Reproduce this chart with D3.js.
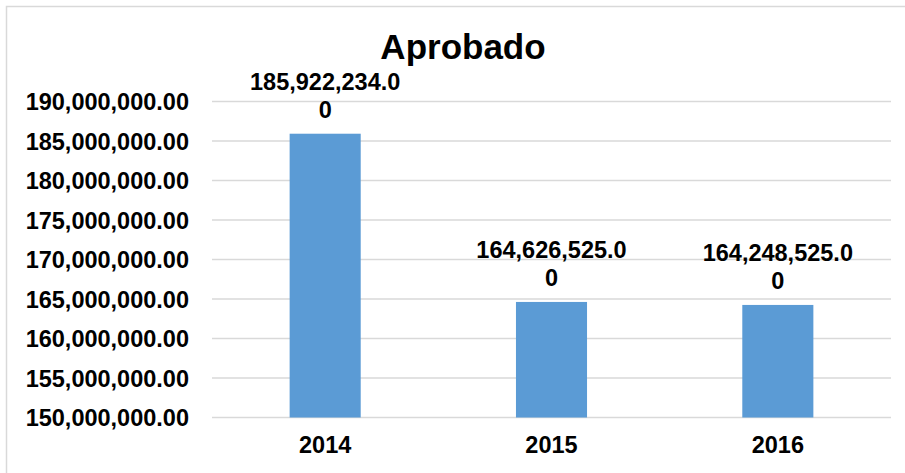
<!DOCTYPE html>
<html>
<head>
<meta charset="utf-8">
<script src="https://cdn.jsdelivr.net/npm/d3@7"></script>
<style>
  html, body { margin: 0; padding: 0; background: #fff; }
  svg { display: block; }
  text { font-family: "Liberation Sans", Arial, Helvetica, sans-serif; font-weight: bold; fill: #000; }
</style>
</head>
<body>
<svg id="chart" width="905" height="473"></svg>
<script>
const title = "Aprobado";
const categories = ["2014", "2015", "2016"];
const values = [185922234.00, 164626525.00, 164248525.00];
const valueLabelLines = [["185,922,234.0", "0"], ["164,626,525.0", "0"], ["164,248,525.0", "0"]];
const yTicks = [150000000, 155000000, 160000000, 165000000, 170000000, 175000000, 180000000, 185000000, 190000000];

const svg = d3.select("#chart");
const W = 905, H = 473;
const plot = { left: 212, right: 891, top: 101.5, bottom: 417.5 };

svg.append("rect").attr("x", 0).attr("y", 0).attr("width", W).attr("height", H).attr("fill", "#fff");
// chart area border (top & left visible)
svg.append("rect").attr("x", 6.5).attr("y", 6.5).attr("width", W + 10).attr("height", H + 10)
  .attr("fill", "none").attr("stroke", "#D9D9D9").attr("stroke-width", 1.5);

const x = d3.scaleBand().domain(categories).range([plot.left, plot.right]).paddingInner(0.686).paddingOuter(0.343);
const y = d3.scaleLinear().domain([150000000, 190000000]).range([plot.bottom, plot.top]);

const fmt = d3.format(",.2f");

// gridlines
svg.append("g").selectAll("line").data(yTicks).join("line")
  .attr("x1", plot.left).attr("x2", plot.right)
  .attr("y1", d => y(d)).attr("y2", d => y(d))
  .attr("stroke", "#D9D9D9").attr("stroke-width", 1.5);

// y axis labels
const yAxis = d3.axisLeft(y).tickValues(yTicks).tickFormat(fmt).tickSize(0).tickPadding(0);
const yg = svg.append("g").attr("transform", `translate(189,0)`).call(yAxis);
yg.select(".domain").remove();
yg.selectAll("text").attr("font-size", "23.5px").attr("dy", "0.35em")
  .style("font-family", '"Liberation Sans", Arial, sans-serif').style("font-weight", "bold").attr("fill", "#000");

// bars
svg.append("g").selectAll("rect").data(values).join("rect")
  .attr("x", (d, i) => x(categories[i]))
  .attr("width", x.bandwidth())
  .attr("y", d => y(d))
  .attr("height", d => y(150000000) - y(d))
  .attr("fill", "#5B9BD5");

// x axis labels
const xAxis = d3.axisBottom(x).tickSize(0).tickPadding(0);
const xg = svg.append("g").attr("transform", `translate(0,453)`).call(xAxis);
xg.select(".domain").remove();
xg.selectAll("text").attr("dy", 0).attr("font-size", "23.5px")
  .style("font-family", '"Liberation Sans", Arial, sans-serif').style("font-weight", "bold").attr("fill", "#000");

// value labels
const lg = svg.append("g");
values.forEach((v, i) => {
  const cx = x(categories[i]) + x.bandwidth() / 2;
  const top = y(v);
  const t = lg.append("text").attr("text-anchor", "middle").attr("font-size", "23.5px");
  t.append("tspan").attr("x", cx).attr("y", top - 44).text(valueLabelLines[i][0]);
  t.append("tspan").attr("x", cx).attr("y", top - 16).text(valueLabelLines[i][1]);
});

// title
svg.append("text").attr("x", 463).attr("y", 59).attr("text-anchor", "middle")
  .attr("font-size", "35px").text(title);
</script>
</body>
</html>
